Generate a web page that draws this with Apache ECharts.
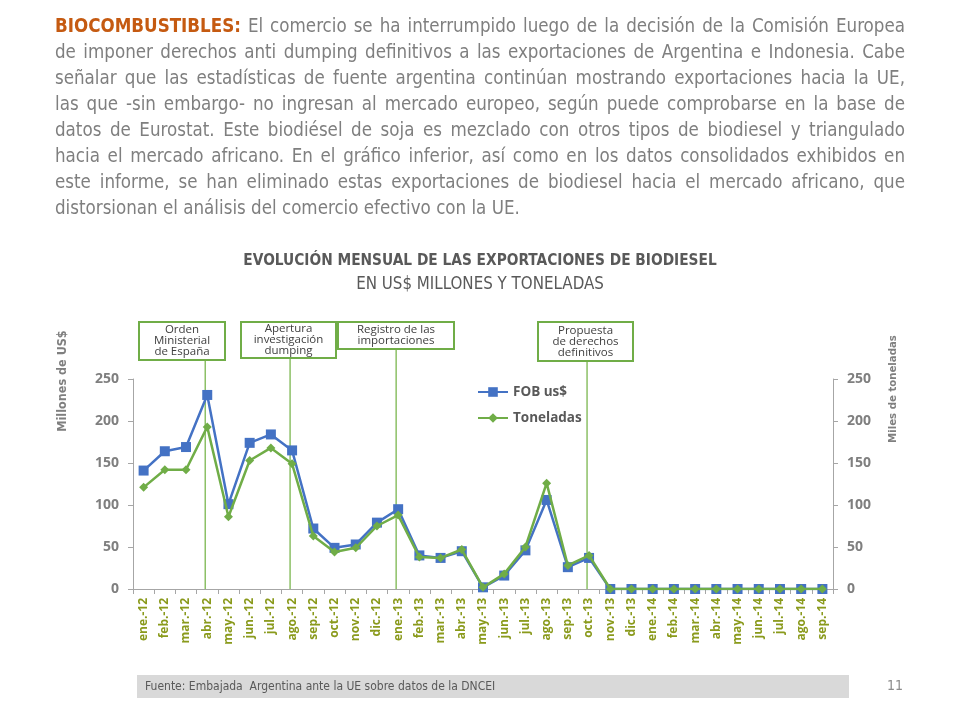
<!DOCTYPE html>
<html>
<head>
<meta charset="utf-8">
<script src="https://cdn.jsdelivr.net/npm/echarts@6/dist/echarts.min.js"></script>
<style>
  html, body { margin:0; padding:0; background:#fff; }
  #wrap { position:relative; width:960px; height:720px; overflow:hidden; }
  #chart { position:absolute; left:0; top:0; width:960px; height:720px; }
  #para { position:absolute; left:55px; top:13px; width:850px; font-family:"Liberation Sans Narrow","DejaVu Sans Condensed",sans-serif; font-size:18.6px; color:#7f7f7f; line-height:26px; pointer-events:none; }
  #para div { white-space:nowrap; text-align:justify; text-align-last:justify; }
  #para div.last { text-align-last:left; }
  #para b { color:#c55a11; }
</style>
</head>
<body>
<div id="wrap">
  <div id="chart"></div>
  <div id="para">
    <div><b>BIOCOMBUSTIBLES:</b> El comercio se ha interrumpido luego de la decisión de la Comisión Europea</div>
    <div>de imponer derechos anti dumping definitivos a las exportaciones de Argentina e Indonesia. Cabe</div>
    <div>señalar que las estadísticas de fuente argentina continúan mostrando exportaciones hacia la UE,</div>
    <div>las que -sin embargo- no ingresan al mercado europeo, según puede comprobarse en la base de</div>
    <div>datos de Eurostat. Este biodiésel de soja es mezclado con otros tipos de biodiesel y triangulado</div>
    <div>hacia el mercado africano. En el gráfico inferior, así como en los datos consolidados exhibidos en</div>
    <div>este informe, se han eliminado estas exportaciones de biodiesel hacia el mercado africano, que</div>
    <div class="last">distorsionan el análisis del comercio efectivo con la UE.</div>
  </div>
</div>
<script>
const months = ['ene.-12','feb.-12','mar.-12','abr.-12','may.-12','jun.-12','jul.-12','ago.-12','sep.-12','oct.-12','nov.-12','dic.-12',
  'ene.-13','feb.-13','mar.-13','abr.-13','may.-13','jun.-13','jul.-13','ago.-13','sep.-13','oct.-13','nov.-13','dic.-13',
  'ene.-14','feb.-14','mar.-14','abr.-14','may.-14','jun.-14','jul.-14','ago.-14','sep.-14'];
const fobUSD = [141,164,169,231,101,174,184,165,72,49,53,79,95,40,37,45,2,16,46,106,26,37,0,0,0,0,0,0,0,0,0,0,0];
const toneladas = [121,142,142,193,86,153,168,149,63,44,49,75,88,38,37,47,2,18,50,126,28,40,0,0,0,0,0,0,0,0,0,0,0];
const yTicks = [0,50,100,150,200,250];
const events = [
  { month:'abr.-12', text:'Orden\nMinisterial\nde España' },
  { month:'ago.-12', text:'Apertura\ninvestigación\ndumping' },
  { month:'ene.-13', text:'Registro de las\nimportaciones' },
  { month:'oct.-13', text:'Propuesta\nde derechos\ndefinitivos' }
];
// box layout (left, top, width, height) for each annotation
const boxLayout = [[139,322,86,38],[241,322,95,36],[338,322,116,27],[538,322,95,39]];

const FONT = '"Liberation Sans Narrow","DejaVu Sans Condensed",sans-serif';
const BLUE = '#4472C4', GREEN = '#70AD47', AXIS = '#a6a6a6';

const chart = echarts.init(document.getElementById('chart'));
const yAxisBase = {
  type:'value', min:yTicks[0], max:yTicks[yTicks.length-1], interval:50,
  axisLine:{show:true, lineStyle:{color:AXIS}},
  axisTick:{show:true, length:5, lineStyle:{color:AXIS}},
  splitLine:{show:false},
  axisLabel:{color:'#7f7f7f', fontWeight:'bold', fontSize:14, fontFamily:'"Open Sans",sans-serif', margin:14}
};
chart.setOption({
  animation:false,
  textStyle:{fontFamily:FONT},
  title:{
    text:'EVOLUCIÓN MENSUAL DE LAS EXPORTACIONES DE BIODIESEL',
    subtext:'EN US$ MILLONES Y TONELADAS',
    left:'center', top:249, itemGap:7,
    textStyle:{fontFamily:FONT, fontSize:15.3, fontWeight:'bold', color:'#595959'},
    subtextStyle:{fontFamily:FONT, fontSize:16.8, color:'#595959'}
  },
  legend:{
    orient:'vertical', left:472, top:380, itemGap:12, itemWidth:30, itemHeight:12,
    textStyle:{fontFamily:'"Open Sans",sans-serif', fontSize:13.5, fontWeight:'bold', color:'#595959'},
    data:['FOB us$','Toneladas']
  },
  grid:{left:133, right:127, top:379, bottom:131},
  xAxis:{
    type:'category', data:months, boundaryGap:true,
    axisLine:{lineStyle:{color:AXIS}},
    axisTick:{show:true, length:5, lineStyle:{color:AXIS}},
    axisLabel:{rotate:90, color:'#8a9a1c', fontWeight:'bold', fontSize:12, fontFamily:'"Open Sans",sans-serif', margin:9, interval:0}
  },
  yAxis:[ Object.assign({}, yAxisBase, {position:'left'}), Object.assign({}, yAxisBase, {position:'right'}) ],
  series:[
    { name:'FOB us$', type:'line', data:fobUSD, yAxisIndex:0, symbol:'rect', symbolSize:10,
      itemStyle:{color:BLUE}, lineStyle:{color:BLUE, width:2.5}, z:3 },
    { name:'Toneladas', type:'line', data:toneladas, yAxisIndex:1, symbol:'diamond', symbolSize:9,
      itemStyle:{color:GREEN}, lineStyle:{color:GREEN, width:2.5}, z:4 }
  ]
});

const y0 = chart.convertToPixel({yAxisIndex:0}, 0);
const g = [];
events.forEach((e, i) => {
  const x = chart.convertToPixel({xAxisIndex:0}, e.month) - 2;
  const b = boxLayout[i];
  g.push({ type:'line', z:1, shape:{x1:x, y1:b[1]+b[3], x2:x, y2:y0}, style:{stroke:'#8cc066', lineWidth:1.5} });
  g.push({ type:'rect', z:5, shape:{x:b[0], y:b[1], width:b[2], height:b[3]}, style:{fill:'#fff', stroke:GREEN, lineWidth:2} });
  g.push({ type:'text', z:6, x:b[0]+b[2]/2, y:b[1]+b[3]/2, style:{text:e.text, align:'center', verticalAlign:'middle', font:'11.5px "Open Sans",sans-serif', fill:'#404040', lineHeight:11} });
});
// axis names
g.push({ type:'text', x:63, y:381, rotation:Math.PI/2, style:{text:'Millones de US$', align:'center', verticalAlign:'middle', font:'bold 12.5px ' + FONT, fill:'#7f7f7f'} });
g.push({ type:'text', x:893, y:389, rotation:Math.PI/2, style:{text:'Miles de toneladas', align:'center', verticalAlign:'middle', font:'bold 11.3px ' + FONT, fill:'#7f7f7f'} });
// footer
g.push({ type:'rect', shape:{x:137, y:675, width:712, height:23}, style:{fill:'#d9d9d9'} });
g.push({ type:'text', x:145, y:686.5, style:{text:'Fuente: Embajada  Argentina ante la UE sobre datos de la DNCEI', verticalAlign:'middle', font:'12px ' + FONT, fill:'#595959'} });
g.push({ type:'text', x:903, y:686, style:{text:'11', align:'right', verticalAlign:'middle', font:'14px ' + FONT, fill:'#8c8c8c'} });
chart.setOption({ graphic:{ elements:g } });
</script>
</body>
</html>
